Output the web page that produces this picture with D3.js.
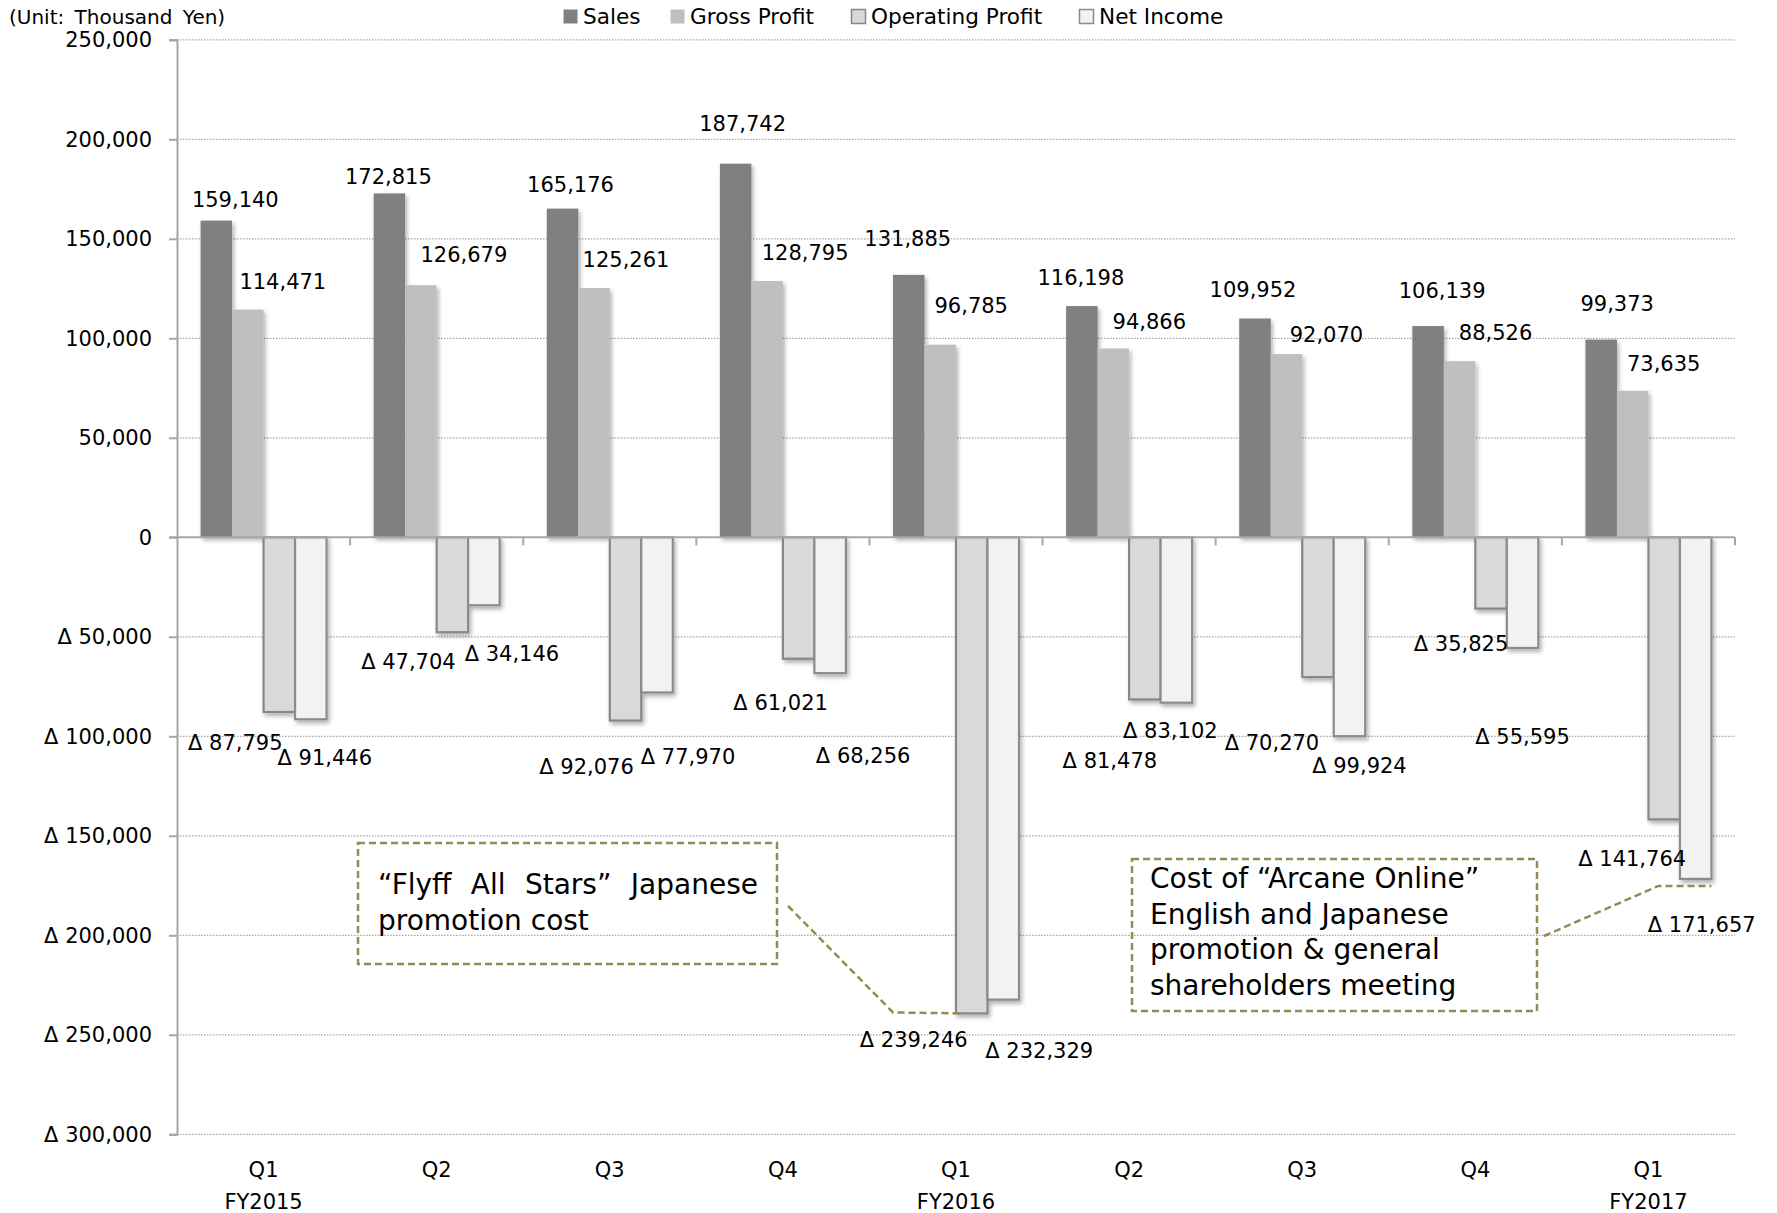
<!DOCTYPE html>
<html>
<head>
<meta charset="utf-8">
<script src="https://cdn.jsdelivr.net/npm/d3@7"></script>
<style>
  body { margin: 0; background: #fff; }
  svg { display: block; font-family: "DejaVu Sans", Verdana, sans-serif; }
</style>
</head>
<body>
<div id="chart"></div>
<script>
// data (thousand yen)
const quarters = ["Q1", "Q2", "Q3", "Q4", "Q1", "Q2", "Q3", "Q4", "Q1"];
const fiscalYears = ["FY2015", "", "", "", "FY2016", "", "", "", "FY2017"];
const seriesNames = ["Sales", "Gross Profit", "Operating Profit", "Net Income"];
const sales = [159140, 172815, 165176, 187742, 131885, 116198, 109952, 106139, 99373];
const grossProfit = [114471, 126679, 125261, 128795, 96785, 94866, 92070, 88526, 73635];
const operatingProfit = [-87795, -47704, -92076, -61021, -239246, -81478, -70270, -35825, -141764];
const netIncome = [-91446, -34146, -77970, -68256, -232329, -83102, -99924, -55595, -171657];
const yTicks = [250000, 200000, 150000, 100000, 50000, 0, -50000, -100000, -150000, -200000, -250000, -300000];

const note1 = ["\u201CFlyff All Stars\u201D Japanese", "promotion cost"];
const note2 = ["Cost of \u201CArcane Online\u201D", "English and Japanese", "promotion & general", "shareholders meeting"];

// label placement (dx from bar centre, dy from bar end), hand tuned
const labelShift = [
  [[19, -21], [-1, -16], [8, -24], [7, -40], [-1, -36], [-1, -28], [-2, -28], [14, -35], [16, -36]],
  [[35, -28], [43, -30], [32, -28], [38, -28], [31, -39], [36, -27], [40, -19], [36, -28], [31, -27]],
  [[-44, 31], [-44, 30], [-39, 46], [-18, 44], [-58, 27], [-35, 62], [-46, 66], [-30, 35], [-32, 40]],
  [[14, 39], [28, 49], [31, 65], [33, 83], [36, 51], [-6, 28], [10, 30], [0, 89], [6, 46]]
];

const values = [sales, grossProfit, operatingProfit, netIncome];
const fills = ["#808080", "#bfbfbf", "#d9d9d9", "#f2f2f2"];
const strokes = [null, null, "#878787", "#8c8c8c"];

const width = 1777, height = 1213;
const plot = { left: 177, right: 1735, top: 39.8, bottom: 1134.3 };
const annColor = "#968b57";

const svg = d3.select("#chart").append("svg")
  .attr("width", width)
  .attr("height", height);

const defs = svg.append("defs");
const shadow = defs.append("filter").attr("id", "shadow")
  .attr("x", "-20%").attr("y", "-20%").attr("width", "150%").attr("height", "150%");
shadow.append("feDropShadow")
  .attr("dx", 2).attr("dy", 3).attr("stdDeviation", 2)
  .attr("flood-color", "#000").attr("flood-opacity", 0.3);

const x = d3.scaleBand()
  .domain(d3.range(quarters.length))
  .range([plot.left, plot.right]);

const xs = d3.scaleBand()
  .domain(d3.range(seriesNames.length))
  .range([0, x.bandwidth()])
  .paddingOuter(0.748);

const y = d3.scaleLinear()
  .domain([-300000, 250000])
  .range([plot.bottom, plot.top]);

const fmt = d3.format(",");
const label = v => v < 0 ? "\u0394 " + fmt(-v) : fmt(v);

// gridlines
svg.append("g")
  .selectAll("line")
  .data(yTicks.filter(d => d !== 0))
  .join("line")
  .attr("x1", plot.left).attr("x2", plot.right)
  .attr("y1", d => y(d)).attr("y2", d => y(d))
  .attr("stroke", "#a6a6a6")
  .attr("stroke-width", 1.3)
  .attr("stroke-dasharray", "1.5,1.5");

// y axis
const yAxis = svg.append("g")
  .attr("transform", `translate(${plot.left},0)`)
  .call(d3.axisLeft(y).tickValues(yTicks).tickSize(8).tickPadding(17).tickFormat(label));
yAxis.select(".domain").attr("stroke", "#a6a6a6").attr("stroke-width", 2);
yAxis.selectAll(".tick line").attr("stroke", "#a6a6a6").attr("stroke-width", 2);
yAxis.selectAll(".tick text")
  .attr("font-size", 21)
  .attr("fill", "#000")
  .attr("font-family", "DejaVu Sans");

// bars
const bars = svg.append("g").attr("filter", "url(#shadow)");
values.forEach((vals, s) => {
  bars.selectAll(`rect.s${s}`)
    .data(vals)
    .join("rect")
    .attr("class", `s${s}`)
    .attr("x", (d, i) => x(i) + xs(s))
    .attr("y", d => y(Math.max(0, d)))
    .attr("width", xs.bandwidth())
    .attr("height", d => Math.abs(y(d) - y(0)))
    .attr("fill", fills[s])
    .attr("stroke", strokes[s] || "none")
    .attr("stroke-width", strokes[s] ? 2.2 : 0);
});

// zero line with group ticks
svg.append("line")
  .attr("x1", plot.left - 8).attr("x2", plot.right)
  .attr("y1", y(0)).attr("y2", y(0))
  .attr("stroke", "#a6a6a6").attr("stroke-width", 2);

svg.append("g")
  .selectAll("line")
  .data(d3.range(1, quarters.length + 1))
  .join("line")
  .attr("x1", i => i === quarters.length ? plot.right : x(i))
  .attr("x2", i => i === quarters.length ? plot.right : x(i))
  .attr("y1", y(0)).attr("y2", y(0) + 8)
  .attr("stroke", "#a6a6a6").attr("stroke-width", 2);

// category labels
svg.append("g")
  .selectAll("text")
  .data(quarters)
  .join("text")
  .attr("x", (d, i) => x(i) + x.bandwidth() / 2)
  .attr("y", 1177)
  .attr("text-anchor", "middle")
  .attr("font-size", 21)
  .text(d => d);

svg.append("g")
  .selectAll("text")
  .data(fiscalYears)
  .join("text")
  .attr("x", (d, i) => x(i) + x.bandwidth() / 2)
  .attr("y", 1209)
  .attr("text-anchor", "middle")
  .attr("font-size", 21)
  .text(d => d);

// data labels
values.forEach((vals, s) => {
  svg.append("g")
    .selectAll("text")
    .data(vals)
    .join("text")
    .attr("x", (d, i) => x(i) + xs(s) + xs.bandwidth() / 2 + labelShift[s][i][0])
    .attr("y", (d, i) => y(d) + labelShift[s][i][1])
    .attr("text-anchor", "middle")
    .attr("dominant-baseline", "central")
    .attr("font-size", 21)
    .attr("fill", "#000")
    .text(d => label(d));
});

// unit and legend
svg.append("text")
  .attr("x", 9).attr("y", 24)
  .attr("font-size", 20)
  .attr("word-spacing", 4)
  .text("(Unit: Thousand Yen)");

const legendX = [563, 670, 851, 1079];
const legend = svg.append("g")
  .selectAll("g")
  .data(seriesNames)
  .join("g")
  .attr("transform", (d, i) => `translate(${legendX[i]},9)`);
legend.append("rect")
  .attr("x", 0.5).attr("y", 0.5)
  .attr("width", 14).attr("height", 14)
  .attr("fill", (d, i) => fills[i])
  .attr("stroke", (d, i) => strokes[i] || "none")
  .attr("stroke-width", 1.5);
legend.append("text")
  .attr("x", 20).attr("y", 15)
  .attr("font-size", 21.6)
  .text(d => d);

// annotations
function noteBox(box, lines, lineX, baselines, justify) {
  svg.append("rect")
    .attr("x", box[0]).attr("y", box[1])
    .attr("width", box[2] - box[0]).attr("height", box[3] - box[1])
    .attr("fill", "none")
    .attr("stroke", annColor)
    .attr("stroke-width", 2.5)
    .attr("stroke-dasharray", "7,4");
  lines.forEach((t, k) => {
    const txt = svg.append("text")
      .attr("x", lineX).attr("y", baselines[k])
      .attr("font-size", 28)
      .text(t);
    if (justify && k === 0) {
      const gaps = t.split(" ").length - 1;
      const extra = (justify - txt.node().getComputedTextLength()) / gaps;
      txt.attr("word-spacing", extra);
    }
  });
}

noteBox([358, 843, 777, 964], note1, 378, [894, 930], 380);
noteBox([1132, 859, 1537, 1011], note2, 1150, [888, 924, 959, 995], 0);

const connector = d3.line();
const op5 = x(4) + xs(2);
svg.append("path")
  .attr("d", connector([[788, 906], [x(4) + xs(0), y(operatingProfit[4]) - 1], [op5 + 4, y(operatingProfit[4])]]))
  .attr("fill", "none")
  .attr("stroke", annColor)
  .attr("stroke-width", 2.5)
  .attr("stroke-dasharray", "7,4");

const ni9 = x(8) + xs(3);
svg.append("path")
  .attr("d", connector([[1544, 936], [x(8) + xs(2) + 10, y(netIncome[8]) + 7], [ni9 + xs.bandwidth(), y(netIncome[8]) + 7]]))
  .attr("fill", "none")
  .attr("stroke", annColor)
  .attr("stroke-width", 2.5)
  .attr("stroke-dasharray", "7,4");
</script>
</body>
</html>
